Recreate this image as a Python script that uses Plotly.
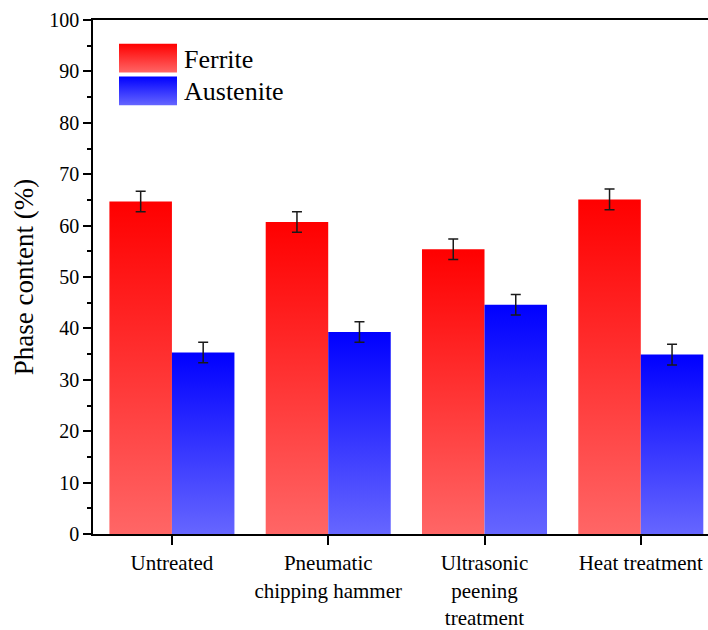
import plotly.graph_objects as go

# Phase fractions (%) for each surface condition
categories = ["Untreated", "Pneumatic<br>chipping hammer", "Ultrasonic<br>peening<br>treatment", "Heat treatment"]
ferrite = [64.7, 60.7, 55.4, 65.1]
austenite = [35.3, 39.3, 44.6, 34.9]
ferrite_err = [2.0, 2.0, 2.0, 2.0]
austenite_err = [2.0, 2.0, 2.0, 2.0]
y_ticks = list(range(0, 101, 10))

FONT = "Liberation Serif, Times New Roman, serif"
BAR_W = 0.4
series = [
    ("Ferrite", ferrite, ferrite_err, -BAR_W / 2, "#FF0000", "#FF6666"),
    ("Austenite", austenite, austenite_err, BAR_W / 2, "#0000FF", "#6666FF"),
]

fig = go.Figure()

# Each bar is a filled rectangle with its own vertical gradient (light bottom -> saturated top)
for name, vals, errs, off, top, bottom in series:
    for i, v in enumerate(vals):
        x0, x1 = i + off - BAR_W / 2, i + off + BAR_W / 2
        fig.add_trace(go.Scatter(
            x=[x0, x0, x1, x1, x0], y=[0, v, v, 0, 0],
            mode="lines", fill="toself",
            line=dict(width=0, color="rgba(0,0,0,0)"),
            fillgradient=dict(type="vertical", colorscale=[[0, bottom], [1, top]]),
            hoverinfo="skip", showlegend=False, name=name,
        ))

# Error bars at bar centres
for name, vals, errs, off, top, bottom in series:
    fig.add_trace(go.Scatter(
        x=[i + off for i in range(len(vals))], y=vals,
        mode="markers", marker=dict(size=1, opacity=0),
        error_y=dict(type="data", array=errs, color="#1a1a1a", thickness=1.5, width=5),
        showlegend=False, name=name,
    ))

# Legend drawn on an overlay axis measured in plot pixels
PW, PH = 615, 518
legend_rows = [(494, 465), (461, 432)]
for (name, vals, errs, off, top, bottom), (yt, yb) in zip(series, legend_rows):
    fig.add_trace(go.Scatter(
        x=[26, 26, 84, 84, 26], y=[yb, yt, yt, yb, yb],
        xaxis="x2", yaxis="y2",
        mode="lines", fill="toself",
        line=dict(width=0, color="rgba(0,0,0,0)"),
        fillgradient=dict(type="vertical", colorscale=[[0, bottom], [1, top]]),
        hoverinfo="skip", showlegend=False,
    ))
    fig.add_annotation(
        x=89, y=(yt + yb) / 2 - 1, xref="x2", yref="y2",
        text=name, showarrow=False, xanchor="left", yanchor="middle",
        font=dict(family=FONT, size=26, color="black"),
    )

fig.update_layout(
    width=708, height=630,
    margin=dict(l=93, r=0, t=20, b=88),
    paper_bgcolor="white", plot_bgcolor="white",
    font=dict(family=FONT, color="black"),
    xaxis=dict(
        range=[-0.505, 3.43],
        tickvals=list(range(len(categories))), ticktext=categories,
        tickfont=dict(family=FONT, size=21, color="black"),
        ticks="outside", ticklen=9, tickwidth=1.5, tickcolor="black",
        showline=True, linewidth=2, linecolor="black", mirror=True,
        showgrid=False, zeroline=False,
    ),
    yaxis=dict(
        range=[0, 100], tickvals=y_ticks,
        tickfont=dict(family=FONT, size=20, color="black"),
        ticks="outside", ticklen=8, tickwidth=1.5, tickcolor="black",
        minor=dict(ticks="outside", ticklen=4, tickwidth=1.5, tickcolor="black", dtick=5),
        showline=True, linewidth=1.5, linecolor="black",
        showgrid=False, zeroline=False,
        title=dict(text="Phase content (%)", font=dict(family=FONT, size=27, color="black"), standoff=8),
    ),
    xaxis2=dict(range=[0, PW], overlaying="x", visible=False, fixedrange=True),
    yaxis2=dict(range=[0, PH], overlaying="y", visible=False, fixedrange=True),
)

fig.write_html("out.html")
